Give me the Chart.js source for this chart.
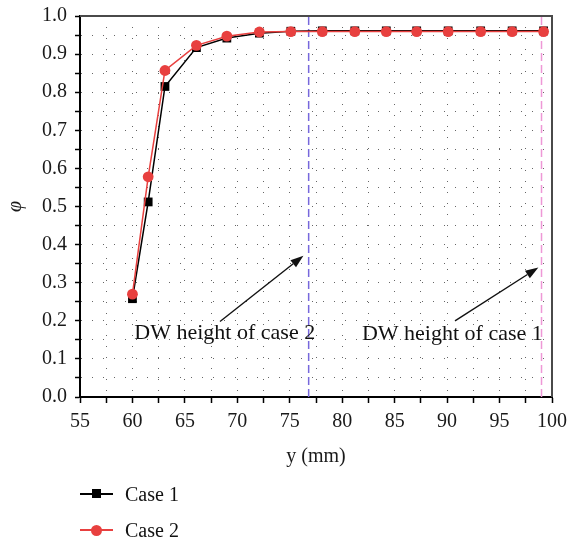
<!DOCTYPE html>
<html><head><meta charset="utf-8">
<script src="https://cdn.jsdelivr.net/npm/chart.js@4.4.0/dist/chart.umd.min.js"></script>
<style>
html,body{margin:0;padding:0;background:#fff;}
#wrap{position:relative;width:569px;height:542px;overflow:hidden;}
#c{position:absolute;left:0;top:0;}
#legend{position:absolute;left:80px;top:476px;font-family:"Liberation Serif",serif;font-size:20px;color:#111;}
.item{display:flex;align-items:center;height:36px;}
.sym{position:relative;width:33px;height:20px;margin-right:12px;}
.sym .ln{position:absolute;left:0;right:0;top:9px;height:2px;}
.sym .mk{position:absolute;}
</style></head>
<body><div id="wrap"><canvas id="c" width="569" height="542"></canvas><div id="legend"></div></div>
<script>
// ---- data ----
const xValues = [60.0, 61.5, 63.1, 66.1, 69.0, 72.1, 75.1, 78.1, 81.2, 84.2, 87.1, 90.1, 93.2, 96.2, 99.2];
const case1 = [0.258, 0.512, 0.815, 0.917, 0.942, 0.955, 0.960, 0.961, 0.961, 0.961, 0.961, 0.961, 0.961, 0.961, 0.961];
const case2 = [0.270, 0.578, 0.857, 0.923, 0.947, 0.958, 0.959, 0.959, 0.959, 0.959, 0.959, 0.959, 0.959, 0.959, 0.959];
const seriesNames = ['Case 1', 'Case 2'];
const dwHeights = [76.8, 99.0];            // DW height of case 2, case 1
const annotTexts = ['DW height of case 2', 'DW height of case 1'];
const annotX = [68.8, 90.5];
const annotY = [0.151, 0.150];
const arrowFromX = [68.35, 90.75];
const arrowFromY = [0.198, 0.200];
const arrowToX = [76.3, 98.7];
const arrowToY = [0.371, 0.340];
const xTickValues = [55, 57.5, 60, 62.5, 65, 67.5, 70, 72.5, 75, 77.5, 80, 82.5, 85, 87.5, 90, 92.5, 95, 97.5, 100];
const xTickLabels = ['55', '', '60', '', '65', '', '70', '', '75', '', '80', '', '85', '', '90', '', '95', '', '100'];
const yTickValues = [0, 0.05, 0.1, 0.15, 0.2, 0.25, 0.3, 0.35, 0.4, 0.45, 0.5, 0.55, 0.6, 0.65, 0.7, 0.75, 0.8, 0.85, 0.9, 0.95, 1.0];
const yTickLabels = ['0.0', '', '0.1', '', '0.2', '', '0.3', '', '0.4', '', '0.5', '', '0.6', '', '0.7', '', '0.8', '', '0.9', '', '1.0'];

const SERIF = '"Liberation Serif", "Times New Roman", serif';
const BLACK = '#000000';
const RED = '#e8403f';

const framePlugin = {
  id: 'frame',
  afterDraw(chart) {
    const {ctx, chartArea: a} = chart;
    ctx.save();
    ctx.strokeStyle = '#4a4a4a';
    ctx.lineWidth = 2;
    ctx.beginPath();
    ctx.moveTo(a.left, a.top);
    ctx.lineTo(a.right, a.top);
    ctx.lineTo(a.right, a.bottom);
    ctx.stroke();
    ctx.restore();
  }
};

const annotPlugin = {
  id: 'annot',
  afterDatasetsDraw(chart) {
    const {ctx, scales: {x, y}} = chart;
    ctx.save();
    for (let i = 0; i < annotTexts.length; i++) {
      const x0 = x.getPixelForValue(arrowFromX[i]), y0 = y.getPixelForValue(arrowFromY[i]);
      const x1 = x.getPixelForValue(arrowToX[i]), y1 = y.getPixelForValue(arrowToY[i]);
      const ang = Math.atan2(y1 - y0, x1 - x0);
      const hl = 13, hw = 4.5;
      const bx = x1 - hl * Math.cos(ang), by = y1 - hl * Math.sin(ang);
      ctx.strokeStyle = '#111'; ctx.fillStyle = '#111'; ctx.lineWidth = 1.4;
      ctx.beginPath(); ctx.moveTo(x0, y0); ctx.lineTo(bx, by); ctx.stroke();
      ctx.beginPath();
      ctx.moveTo(x1, y1);
      ctx.lineTo(bx + hw * Math.sin(ang), by - hw * Math.cos(ang));
      ctx.lineTo(bx - hw * Math.sin(ang), by + hw * Math.cos(ang));
      ctx.closePath(); ctx.fill();
      ctx.font = '22px ' + SERIF;
      ctx.textAlign = 'center';
      ctx.textBaseline = 'alphabetic';
      ctx.fillText(annotTexts[i], x.getPixelForValue(annotX[i]), y.getPixelForValue(annotY[i]));
    }
    ctx.restore();
  }
};

const chart = new Chart(document.getElementById('c'), {
  type: 'line',
  data: {
    datasets: [
      {label: seriesNames[0], order: 1, data: xValues.map((v, i) => ({x: v, y: case1[i]})),
       borderColor: BLACK, backgroundColor: BLACK, borderWidth: 1.5, pointStyle: 'rect',
       pointRadius: 6.2, pointBorderWidth: 0, pointBackgroundColor: BLACK, tension: 0},
      {label: seriesNames[1], order: 0, data: xValues.map((v, i) => ({x: v, y: case2[i]})),
       borderColor: RED, backgroundColor: RED, borderWidth: 1.5, pointStyle: 'circle',
       pointRadius: 5.4, pointBorderWidth: 0, pointBackgroundColor: RED, tension: 0},
      {label: 'dw2', order: 2, data: [{x: dwHeights[0], y: 0}, {x: dwHeights[0], y: 1}],
       borderColor: '#7768dc', borderWidth: 1.5, borderDash: [8, 4], pointRadius: 0},
      {label: 'dw1', order: 3, data: [{x: dwHeights[1], y: 0}, {x: dwHeights[1], y: 1}],
       borderColor: '#ee98d6', borderWidth: 1.5, borderDash: [8, 4], pointRadius: 0}
    ]
  },
  options: {
    responsive: false, animation: false,
    layout: {padding: {left: 4, right: 17, top: 16, bottom: 73}},
    plugins: {legend: {display: false}, tooltip: {enabled: false}},
    scales: {
      x: {
        type: 'linear', min: 55, max: 100,
        afterBuildTicks: s => { s.ticks = xTickValues.map(v => ({value: v})); },
        afterFit: s => { s.height = 72; s.paddingLeft = 0; s.paddingRight = 0; },
        ticks: {autoSkip: false, maxRotation: 0, padding: 7, color: '#1a1a1a',
                font: {family: SERIF, size: 20},
                callback: (v, i) => xTickLabels[i]},
        grid: {color: 'rgba(0,0,0,0.6)', lineWidth: 1, tickLength: 6, tickColor: '#000', tickWidth: 1.5},
        border: {display: true, color: '#000', width: 2, dash: [1, 10]},
        title: {display: true, text: 'y (mm)', color: '#1a1a1a', font: {family: SERIF, size: 20}, padding: {top: 0, bottom: 0}}
      },
      y: {
        type: 'linear', min: 0, max: 1,
        afterBuildTicks: s => { s.ticks = yTickValues.map(v => ({value: v})); },
        afterFit: s => { s.width = 76; s.paddingTop = 0; s.paddingBottom = 0; },
        ticks: {autoSkip: false, padding: 8, color: '#1a1a1a',
                font: {family: SERIF, size: 20},
                callback: (v, i) => yTickLabels[i]},
        grid: {color: 'rgba(0,0,0,0.6)', lineWidth: 1, tickLength: 5, tickColor: '#000', tickWidth: 1.5},
        border: {display: true, color: '#000', width: 2, dash: [1, 10]},
        title: {display: true, text: 'φ', color: '#1a1a1a', font: {family: SERIF, size: 20, style: 'italic'}, padding: {top: 0, bottom: 0}}
      }
    }
  },
  plugins: [framePlugin, annotPlugin]
});

// HTML legend built from the chart's own datasets
const legendEl = document.getElementById('legend');
chart.data.datasets.slice(0, 2).forEach((ds, i) => {
  const item = document.createElement('div'); item.className = 'item';
  const sym = document.createElement('div'); sym.className = 'sym';
  const ln = document.createElement('div'); ln.className = 'ln'; ln.style.background = ds.borderColor;
  const mk = document.createElement('div'); mk.className = 'mk';
  if (i === 0) { mk.style.cssText = 'left:12px;top:5px;width:9px;height:9px;background:' + ds.borderColor; }
  else { mk.style.cssText = 'left:11px;top:5px;width:11px;height:11px;border-radius:50%;background:' + ds.borderColor; }
  sym.appendChild(ln); sym.appendChild(mk);
  const t = document.createElement('span'); t.textContent = ds.label;
  item.appendChild(sym); item.appendChild(t);
  legendEl.appendChild(item);
});
</script>
</body></html>
